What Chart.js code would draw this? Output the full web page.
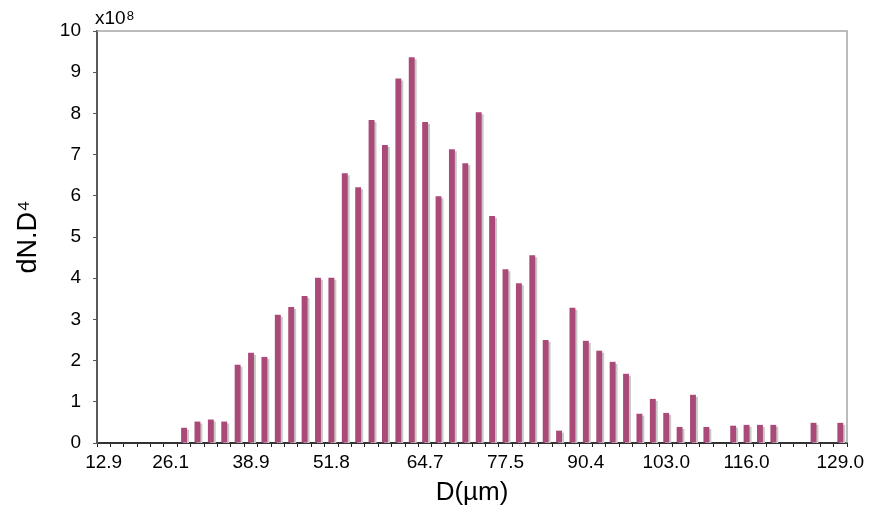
<!DOCTYPE html>
<html>
<head>
<meta charset="utf-8">
<script src="https://cdn.jsdelivr.net/npm/chart.js@4"></script>
<style>
  html, body { margin: 0; padding: 0; background: #fff; }
  #wrap { width: 877px; height: 520px; position: relative; }
</style>
</head>
<body>
<div id="wrap"><canvas id="dist"></canvas></div>
<script>
// tick labels on the D axis (blank = unlabeled bin)
const tickLabels = [
  '12.9', '', '', '', '', '26.1', '', '', '', '', '', '38.9', '', '', '', '', '', '51.8',
  '', '', '', '', '', '', '64.7', '', '', '', '', '', '77.5', '', '', '', '', '', '90.4',
  '', '', '', '', '', '103.0', '', '', '', '', '', '116.0', '', '', '', '', '', '', '129.0'
];

// dN.D^4 per bin, in units of 1e8
const values = [
  0, 0, 0, 0, 0, 0,
  0.37, 0.52, 0.57, 0.52, 1.90, 2.19, 2.09, 3.11, 3.30, 3.57, 4.01, 4.01,
  6.55, 6.21, 7.84, 7.23, 8.85, 9.36, 7.79, 5.99, 7.13, 6.79, 8.03, 5.51,
  4.22, 3.88, 4.56, 2.50, 0.30, 3.28, 2.48, 2.24, 1.97, 1.68, 0.71, 1.07,
  0.73, 0.39, 1.17, 0.39, 0, 0.42, 0.44, 0.44, 0.44, 0, 0, 0.49, 0, 0.49
];

const yTicks = [0, 1, 2, 3, 4, 5, 6, 7, 8, 9, 10];

const FONT = "'Liberation Sans', Arial, sans-serif";

// gray drop shadow behind the bars
const barShadow = {
  id: "barShadow",
  beforeDatasetsDraw(chart) {
    const ctx = chart.ctx;
    ctx.save();
    ctx.shadowColor = "#c8c8c8";
    ctx.shadowOffsetX = 2;
    ctx.shadowOffsetY = 2;
    ctx.shadowBlur = 0;
  },
  afterDatasetsDraw(chart) {
    chart.ctx.restore();
  }
};

// light top/right frame + exponent note
const frame = {
  id: "frame",
  afterDraw(chart) {
    const { ctx, chartArea: a } = chart;
    ctx.save();
    ctx.strokeStyle = "#a6a6a6";
    ctx.lineWidth = 1.5;
    ctx.beginPath();
    ctx.moveTo(a.left, a.top);
    ctx.lineTo(a.right, a.top);
    ctx.lineTo(a.right, a.bottom);
    ctx.stroke();

    // "x10" with a raised 8
    ctx.fillStyle = "#000";
    ctx.textAlign = "left";
    ctx.textBaseline = "alphabetic";
    ctx.font = "19px " + FONT;
    const x0 = a.left - 2;
    ctx.fillText("x10", x0, a.top - 7);
    const w = ctx.measureText("x10").width;
    ctx.font = "13px " + FONT;
    ctx.fillText("8", x0 + w + 1, a.top - 11);
    ctx.restore();
  }
};

new Chart(document.getElementById("dist"), {
  type: "bar",
  data: {
    labels: tickLabels,
    datasets: [{
      data: values,
      backgroundColor: "#aa4a78",
      borderWidth: 0,
      barPercentage: 0.44,
      categoryPercentage: 1
    }]
  },
  options: {
    responsive: true,
    maintainAspectRatio: false,
    animation: false,
    events: [],
    layout: { padding: { left: 0, right: 30, top: 31, bottom: 0 } },
    plugins: {
      legend: { display: false },
      tooltip: { enabled: false }
    },
    scales: {
      x: {
        z: 1,
        grid: {
          offset: true,
          drawOnChartArea: false,
          tickLength: 4,
          color: "#222"
        },
        border: { color: "#333", width: 2 },
        ticks: {
          autoSkip: false,
          maxRotation: 0,
          minRotation: 0,
          padding: 4,
          color: "#000",
          font: { family: FONT, size: 19 },
          callback: (v, i) => tickLabels[i]
        },
        title: {
          display: true,
          text: "D(\u00b5m)",
          color: "#000",
          font: { family: FONT, size: 26 },
          padding: { top: 0, bottom: 12 }
        },
        afterFit: s => { s.height = 77; }
      },
      y: {
        min: 0,
        max: 10,
        afterBuildTicks: s => { s.ticks = yTicks.map(v => ({ value: v })); },
        grid: {
          drawOnChartArea: false,
          tickLength: 4,
          color: "#555"
        },
        border: { color: "#5a5a5a", width: 2 },
        ticks: {
          padding: 12,
          color: "#000",
          font: { family: FONT, size: 19 }
        },
        title: {
          display: true,
          text: "dN.D\u2074",
          color: "#000",
          font: { family: FONT, size: 27 },
          padding: { top: 12, bottom: 0 }
        },
        afterFit: s => { s.width = 97; }
      }
    }
  },
  plugins: [barShadow, frame]
});
</script>
</body>
</html>
